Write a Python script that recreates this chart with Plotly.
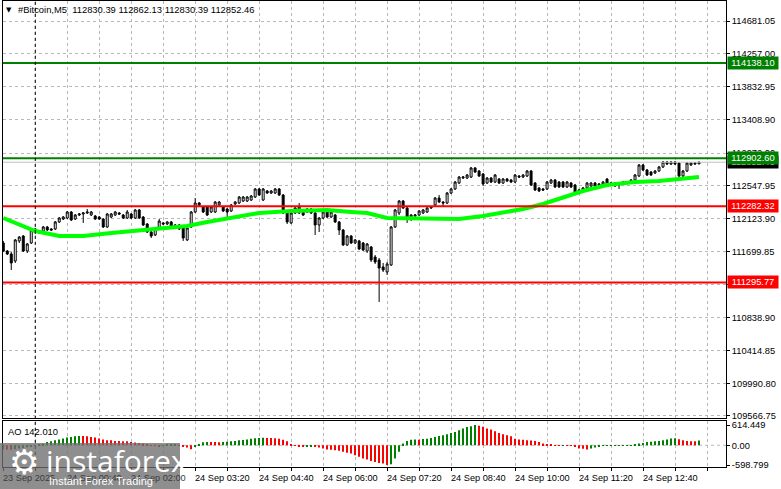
import pandas as pd
import plotly.graph_objects as go

W, H = 781, 489

start_time = "2025-09-23 23:20"
n_bars = 175
times = pd.date_range(start_time, periods=n_bars, freq="5min")

opens = [111807,111703,111664,111574,111833,111897,111703,111807,111949,111962,
111962,112014,111988,111988,112079,112117,112130,112208,112117,112169,
112182,112195,112169,112156,112143,112117,112014,112143,112169,112195,
112169,112130,112182,112130,112234,112143,112053,111949,111910,112001,
112066,112053,112079,112040,112040,112001,111846,112014,112208,112325,
112273,112273,112208,112208,112299,112273,112247,112221,112312,112325,
112350,112350,112363,112402,112506,112363,112480,112454,112454,112506,
112428,112195,112066,112195,112195,112234,112247,112247,112195,112040,
112130,112208,112143,112169,112079,111975,111781,111897,111807,111833,
111807,111703,111755,111625,111587,111496,111431,111522,112014,112195,
112350,112260,112117,112156,112169,112195,112208,112260,112299,112389,
112337,112325,112454,112506,112583,112648,112648,112661,112778,112739,
112700,112583,112648,112596,112635,112583,112635,112622,112596,112674,
112661,112674,112739,112583,112519,112506,112506,112583,112622,112596,
112596,112532,112583,112558,112493,112480,112519,112545,112583,112571,
112558,112635,112571,112583,112571,112583,112583,112596,112622,112674,
112817,112752,112726,112713,112739,112791,112855,112829,112855,112842,
112674,112739,112817,112829,112830.39]

highs = [111833,111716,111690,111858,111897,111910,111807,112001,112001,111975,
112027,112027,112001,112091,112143,112156,112221,112221,112182,112195,
112208,112247,112221,112169,112156,112130,112195,112195,112221,112208,
112182,112234,112195,112247,112247,112156,112066,111962,112014,112117,
112079,112091,112091,112053,112053,112014,112027,112221,112389,112337,
112286,112286,112286,112350,112350,112286,112260,112312,112350,112415,
112415,112415,112428,112519,112519,112519,112493,112493,112519,112519,
112441,112208,112208,112273,112325,112247,112260,112260,112208,112143,
112221,112221,112221,112182,112091,111988,111910,111910,111858,111846,
111820,111807,111768,111651,111612,111548,111561,112027,112247,112363,
112363,112273,112182,112182,112234,112247,112273,112286,112402,112428,
112350,112467,112519,112609,112674,112674,112700,112791,112791,112752,
112713,112661,112661,112700,112648,112648,112648,112635,112700,112687,
112700,112752,112752,112596,112532,112519,112609,112635,112635,112609,
112609,112609,112596,112571,112506,112532,112596,112596,112596,112583,
112609,112648,112596,112596,112583,112609,112609,112635,112700,112829,
112829,112765,112739,112752,112804,112868,112868,112868,112868,112855,
112752,112855,112855,112855,112862.13]

lows = [111690,111651,111457,111548,111807,111690,111677,111794,111923,111923,
111949,111962,111962,111975,112066,112104,112117,112091,112104,112156,
112066,112182,112156,112104,112104,112001,112001,112130,112156,112169,
112117,112117,112117,112117,112117,112027,111936,111871,111897,111988,
112040,112040,112001,112014,111975,111833,111833,112001,112195,112286,
112195,112156,112195,112195,112286,112208,112143,112208,112299,112312,
112337,112337,112350,112389,112415,112350,112441,112441,112441,112415,
112182,112053,112053,112182,112182,112156,112195,112182,111910,111949,
112117,112130,112130,112066,111910,111768,111768,111794,111794,111716,
111703,111677,111561,111535,111043,111431,111392,111509,112001,112169,
112247,112066,112091,112130,112156,112182,112195,112247,112286,112325,
112273,112312,112441,112493,112571,112635,112635,112648,112713,112661,
112545,112571,112583,112583,112571,112571,112596,112583,112583,112648,
112648,112661,112545,112480,112467,112480,112493,112571,112519,112519,
112519,112519,112519,112441,112454,112467,112506,112532,112532,112545,
112545,112545,112558,112532,112506,112571,112571,112583,112609,112661,
112739,112674,112674,112700,112726,112778,112817,112817,112817,112661,
112661,112726,112804,112817,112830.39]

closes = [111703,111664,111548,111846,111884,111703,111794,111975,111988,111936,
112014,111975,111975,112079,112130,112143,112208,112104,112169,112182,
112195,112208,112208,112117,112117,112014,112182,112182,112208,112182,
112130,112208,112130,112234,112130,112040,111949,111897,112001,112091,
112053,112079,112014,112027,111988,111871,112001,112208,112325,112299,
112208,112169,112273,112337,112337,112221,112208,112299,112337,112402,
112402,112402,112415,112506,112428,112506,112454,112480,112506,112428,
112195,112079,112195,112260,112273,112169,112208,112195,112040,112130,
112208,112143,112208,112079,111975,111781,111897,111807,111846,111729,
111716,111794,111587,111561,111483,111457,111535,112014,112234,112350,
112260,112117,112169,112169,112221,112234,112260,112273,112389,112337,
112325,112454,112506,112596,112661,112661,112687,112778,112726,112674,
112571,112648,112596,112687,112583,112635,112609,112596,112687,112661,
112687,112739,112558,112493,112480,112493,112596,112622,112532,112532,
112532,112596,112532,112454,112467,112519,112583,112583,112545,112558,
112596,112558,112583,112545,112558,112596,112596,112622,112687,112817,
112752,112687,112687,112739,112791,112855,112829,112855,112829,112674,
112739,112842,112842,112842,112852.46]

# moving average read at selected bars (bar index, price)
ma_bars = [0, 8, 14, 20, 27, 33, 41, 46, 51, 58, 64, 72, 81, 87, 91, 96, 102,
           114, 120, 124, 130, 135, 140, 145, 151, 158, 164, 169, 174]
ma_vals = [112130, 111962, 111897, 111897, 111936, 111962, 112001, 112027, 112079,
           112143, 112195, 112221, 112234, 112208, 112195, 112130, 112130, 112117,
           112156, 112195, 112247, 112312, 112402, 112480, 112558, 112597, 112610,
           112635, 112661]

ao = [-120,-130,-140,-120,-100,-80,-60,-40,-10,20,
      50,101,121,152,172,202,232,253,273,283,
      280,273,253,232,202,172,152,150,131,129,
      121,119,101,81,71,50,30,-10,-15,-30,
      -5,20,22,25,5,-40,-70,-120,-50,10,
      90,101,98,96,94,100,110,120,130,150,
      160,175,200,215,220,225,222,218,215,195,
      165,120,10,-10,-30,-35,-32,-28,-50,-70,
      -100,-130,-135,-150,-170,-200,-230,-250,-300,-350,
      -400,-430,-475,-505,-535,-555,-598.799,-575,-405,-200,
      50,130,170,172,168,190,200,222,252,283,
      303,333,374,404,455,505,556,580,614.449,590,
      560,505,475,425,375,335,305,270,200,172,
      165,150,148,130,100,50,20,10,-5,-8,
      -6,-10,-15,-30,-101,-105,-131,-101,-70,-50,
      -20,-10,-8,-6,-4,-2,2,5,10,50,
      70,101,105,121,131,152,172,202,212,182,
      152,131,121,118,142.010]

price_ticks = [114681.05, 114257.00, 113832.95, 113408.90, 112972.00, 112547.95,
               112123.90, 111699.85, 111275.80, 110838.90, 110414.85, 109990.80, 109566.75]
ao_ticks = [614.449, 0.0, -598.799]
ao_tick_text = ["614.449", "0.00", "-598.799"]

levels_green = [114138.10, 112902.60]
levels_red = [112282.32, 111295.77]
bid_price = 112852.46

time_label_bars = [0, 16, 32, 48, 64, 80, 96, 112, 128, 144, 160]
time_label_text = ["23 Sep 2025", "24 Sep 00:40", "24 Sep 02:00", "24 Sep 03:20",
                   "24 Sep 04:40", "24 Sep 06:00", "24 Sep 07:20", "24 Sep 08:40",
                   "24 Sep 10:00", "24 Sep 11:20", "24 Sep 12:40"]

title_text = "#Bitcoin,M5  112830.39 112862.13 112830.39 112852.46"
ao_label = "AO 142.010"

FONT = "Liberation Sans, Arial, sans-serif"
FS = 9.3

def px(x):
    return x / W

def py(y):
    return 1 - y / H

x_left, x_right = 3, 726
main_top, main_bot = 1, 418
ao_top, ao_bot = 421, 467

ao_colors = ["#008000"] + ["#008000" if ao[i] > ao[i - 1] else "#ff0000" for i in range(1, len(ao))]

fig = go.Figure()
fig.add_trace(go.Candlestick(
    x=times, open=opens, high=highs, low=lows, close=closes,
    increasing=dict(line=dict(color="black", width=1), fillcolor="white"),
    decreasing=dict(line=dict(color="black", width=1), fillcolor="black"),
    whiskerwidth=0, xaxis="x", yaxis="y", hoverinfo="skip", showlegend=False))
fig.add_trace(go.Scatter(
    x=[times[i] for i in ma_bars], y=ma_vals, mode="lines",
    line=dict(color="#00ff00", width=4), xaxis="x", yaxis="y",
    hoverinfo="skip", showlegend=False))
fig.add_trace(go.Bar(
    x=times, y=ao, marker=dict(color=ao_colors, line=dict(width=0)),
    width=60000, xaxis="x2", yaxis="y2", hoverinfo="skip", showlegend=False))

x_range = [pd.Timestamp(start_time) - pd.Timedelta(seconds=20),
           pd.Timestamp(start_time) + pd.Timedelta(minutes=5 * (x_right - x_left) / 4)]

grid = dict(showgrid=True, gridcolor="#b8b8b8", griddash="3px,3px", gridwidth=1)
xcommon = dict(range=x_range, type="date", tick0="2025-09-24 00:00", dtick=2400000,
               showline=True, linecolor="black", mirror=True, linewidth=1,
               zeroline=False, automargin=False, rangeslider=dict(visible=False), **grid)

fig.update_layout(
    template="none",
    width=W, height=H, margin=dict(l=0, r=0, t=0, b=0, pad=0),
    paper_bgcolor="white", plot_bgcolor="white", showlegend=False,
    hovermode=False, font=dict(family=FONT, size=FS, color="black"),
    xaxis=dict(domain=[px(x_left), px(x_right)], anchor="y", showticklabels=False,
               ticks="", **xcommon),
    xaxis2=dict(domain=[px(x_left), px(x_right)], anchor="y2", matches="x",
                showticklabels=False, ticks="outside", ticklen=3, tickcolor="black",
                **xcommon),
    yaxis=dict(domain=[py(main_bot), py(main_top)], anchor="x", side="right",
               range=[114953 - 12.948 * main_bot, 114953 - 12.948 * main_top],
               tickvals=price_ticks, ticktext=[f"{v:.2f}" for v in price_ticks],
               ticks="outside", ticklen=3, tickcolor="black", automargin=False,
               showline=True, linecolor="black", mirror=True, zeroline=False,
               tickfont=dict(family=FONT, size=FS, color="black"), **grid),
    yaxis2=dict(domain=[py(ao_bot), py(ao_top)], anchor="x2", side="right",
                range=[-659.5, 735.8], tickvals=ao_ticks, ticktext=ao_tick_text,
                ticks="outside", ticklen=3, tickcolor="black", automargin=False,
                showline=True, linecolor="black", mirror=True, zeroline=False,
                showgrid=False, tickfont=dict(family=FONT, size=FS, color="black")),
)

shapes = []
shapes.append(dict(type="line", xref="paper", yref="y2", x0=px(x_left), x1=px(x_right),
                   y0=0, y1=0, line=dict(color="#b8b8b8", width=1, dash="3px,3px"), layer="below"))
shapes.append(dict(type="line", xref="paper", yref="y", x0=px(x_left), x1=px(x_right),
                   y0=bid_price, y1=bid_price, line=dict(color="#c0c0c0", width=1)))
for lv in levels_green:
    shapes.append(dict(type="line", xref="paper", yref="y", x0=px(x_left), x1=px(x_right),
                       y0=lv, y1=lv, line=dict(color="#008000", width=2)))
for lv in levels_red:
    shapes.append(dict(type="line", xref="paper", yref="y", x0=px(x_left), x1=px(x_right),
                       y0=lv, y1=lv, line=dict(color="#ff0000", width=2)))
sep = pd.Timestamp("2025-09-24 00:00")
shapes.append(dict(type="line", xref="x", yref="paper", x0=sep, x1=sep,
                   y0=py(ao_bot), y1=py(main_top), line=dict(color="black", width=1, dash="3px,3px")))
shapes.append(dict(type="rect", xref="paper", yref="paper", x0=0, x1=px(180),
                   y0=0, y1=py(443), fillcolor="rgba(110,110,110,0.78)", line=dict(width=0),
                   layer="above"))
fig.update_layout(shapes=shapes)

ann = []
def side_label(val, text, bg):
    ann.append(dict(xref="paper", yref="y", x=px(727), y=val, xanchor="left", yanchor="middle",
                    text=text, showarrow=False, bgcolor=bg, borderpad=1, width=48,
                    font=dict(family=FONT, size=FS, color="white")))

side_label(bid_price, f"{bid_price:.2f}", "black")
for lv in levels_green:
    side_label(lv, f"{lv:.2f}", "#008000")
for lv in levels_red:
    side_label(lv, f"{lv:.2f}", "#ff0000")

for b, t in zip(time_label_bars, time_label_text):
    under_wm = b * 4 + x_left < 180
    ann.append(dict(xref="x", yref="paper", x=times[b], y=py(478), xanchor="left",
                    yanchor="middle", text=t, showarrow=False, xshift=-2,
                    font=dict(family=FONT, size=9.2, color="#3c3c3c" if under_wm else "black")))

ann.append(dict(xref="paper", yref="paper", x=px(4), y=py(10), xanchor="left", yanchor="middle",
                text="▼", showarrow=False, font=dict(family="DejaVu Sans", size=7, color="black")))
ann.append(dict(xref="paper", yref="paper", x=px(16), y=py(10), xanchor="left", yanchor="middle",
                text=title_text, showarrow=False, font=dict(family=FONT, size=9.4, color="black")))
ann.append(dict(xref="paper", yref="paper", x=px(6), y=py(431), xanchor="left", yanchor="middle",
                text=ao_label, showarrow=False, font=dict(family=FONT, size=9.4, color="black")))

ann.append(dict(xref="paper", yref="paper", x=px(24), y=py(462), xanchor="center", yanchor="middle",
                text="⚙", showarrow=False, font=dict(family="DejaVu Sans", size=34, color="white")))
ann.append(dict(xref="paper", yref="paper", x=px(44), y=py(460), xanchor="left", yanchor="middle",
                text="instaforex", showarrow=False,
                font=dict(family="Open Sans, Lato, sans-serif", size=30, color="white")))
ann.append(dict(xref="paper", yref="paper", x=px(47), y=py(481), xanchor="left", yanchor="middle",
                text="Instant Forex Trading", showarrow=False,
                font=dict(family=FONT, size=11, color="white")))
fig.update_layout(annotations=ann)

fig.write_html("out.html", config={"displayModeBar": False},
               post_script="document.body.style.margin='0';document.body.style.overflow='hidden';")
